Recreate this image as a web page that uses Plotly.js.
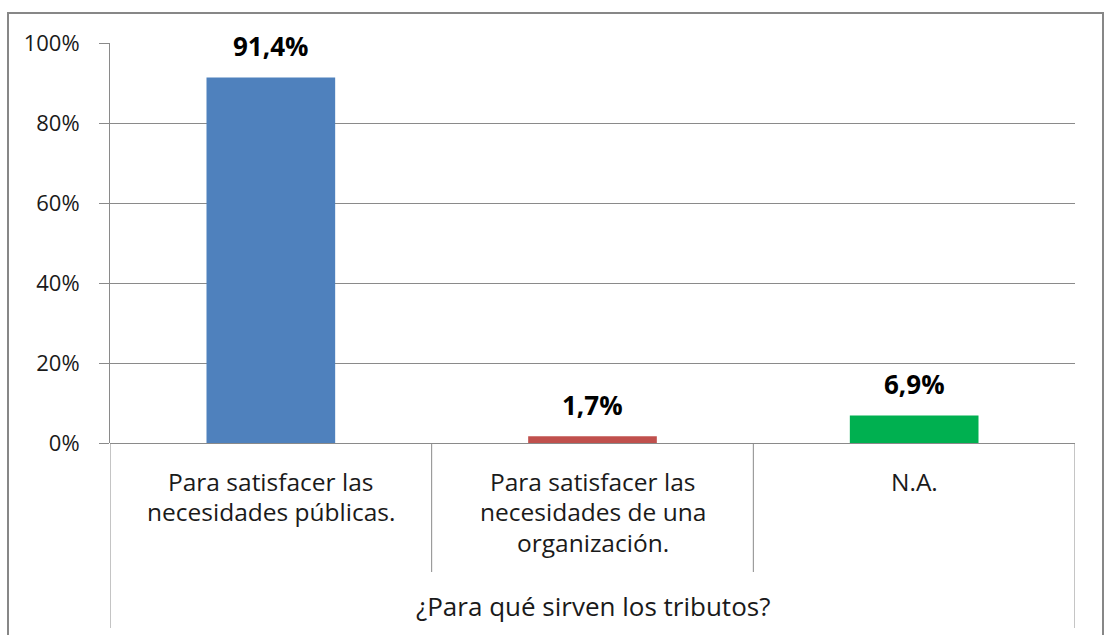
<!DOCTYPE html>
<html><head><meta charset="utf-8">
<script src="https://cdn.plot.ly/plotly-3.0.1.min.js"></script>
<style>html,body{margin:0;padding:0;background:#fff;}#chart{width:1106px;height:635px;}</style>
</head><body><div id="chart"></div>
<script>
const categories = ["Para satisfacer las necesidades públicas.", "Para satisfacer las necesidades de una organización.", "N.A."];
const tickLabels = ["Para satisfacer las<br>necesidades públicas.", "Para satisfacer las<br>necesidades de una<br>organización.", "N.A."];
const values = [91.4, 1.7, 6.9];
const valueLabels = ["91,4%", "1,7%", "6,9%"];
const barColors = ["#4F81BD", "#C0504D", "#00B050"];
const groupLabel = "¿Para qué sirven los tributos?";
const yTicks = [0, 20, 40, 60, 80, 100];
const yTickText = ["0%", "20%", "40%", "60%", "80%", "100%"];

const W = 1106, H = 635, L = 110, R = 31, T = 43, B = 192;
const pw = W - L - R, ph = H - T - B;
const px = x => (x - L) / pw;
const py = y => (H - B - y) / ph;
const FONT = "'Open Sans', sans-serif";
const lineCol = "#8a8a8a";
const txtCol = "#1a1a1a";

const shapes = [];
shapes.push({type:"rect", xref:"paper", yref:"paper", x0:px(8), x1:px(1103), y0:py(13), y1:py(660), line:{color:"#878787", width:2}, layer:"below"});
for (let i = 0; i <= categories.length; i++) {
  const edge = i === 0 || i === categories.length;
  shapes.push({type:"line", xref:"x", yref:"paper", x0:i-0.5, x1:i-0.5, y0:0, y1: edge ? py(628) : py(572), line:{color:lineCol, width:1}});
}

const annotations = categories.map((c, i) => ({
  x: c, y: values[i], xref:"x", yref:"y", text:"<b>"+valueLabels[i]+"</b>", showarrow:false,
  yanchor:"middle", yshift:31, font:{family:FONT, size:26, color:"#000"}
}));
categories.forEach((c, i) => {
  tickLabels[i].split("<br>").forEach((line, j) => {
    annotations.push({x:c, xref:"x", yref:"paper", y:0, yanchor:"middle", yshift:-(38 + 30.5*j),
      text:line, showarrow:false, font:{family:FONT, size:24.5, color:txtCol}});
  });
});
annotations.push({x:0.5, y:py(606), xref:"paper", yref:"paper", yanchor:"middle", text:groupLabel, showarrow:false,
  font:{family:FONT, size:26, color:txtCol}});

Plotly.newPlot("chart", [{
  type:"bar", x:categories, y:values, marker:{color:barColors, line:{width:0}}, width:0.4, hoverinfo:"none"
}], {
  width:W, height:H, margin:{l:L, r:R, t:T, b:B, pad:0},
  paper_bgcolor:"#fff", plot_bgcolor:"#fff", showlegend:false,
  font:{family:FONT, size:22, color:txtCol},
  xaxis:{type:"category", showticklabels:false, showgrid:false, zeroline:false,
    showline:false, ticks:"", range:[-0.5, 2.5], fixedrange:true},
  yaxis:{range:[0, 100], tickvals:yTicks, ticktext:yTickText, showgrid:true, gridcolor:lineCol, gridwidth:1,
    zeroline:true, zerolinecolor:lineCol, zerolinewidth:1, showline:true, linecolor:lineCol, linewidth:1,
    ticks:"outside", ticklen:10, tickcolor:lineCol, ticklabelstandoff:15, fixedrange:true,
    tickfont:{family:FONT, size:22, color:txtCol}},
  shapes: shapes, annotations: annotations
}, {displayModeBar:false, staticPlot:true});
</script></body></html>
